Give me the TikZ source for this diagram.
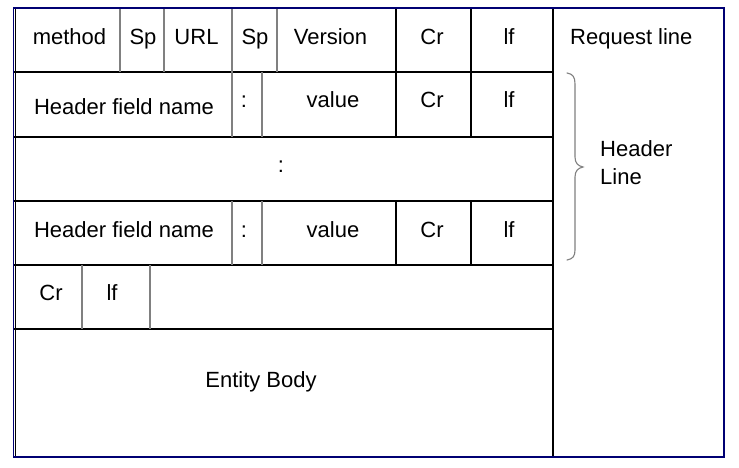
\documentclass[tikz,border=0pt]{standalone}
\usepackage{fontspec}
\setmainfont{Liberation Sans}
\begin{document}
\begin{tikzpicture}[x=1pt,y=-1pt,
  lbl/.style={inner sep=0pt,anchor=base,font=\fontsize{22}{26}\selectfont},
  lblw/.style={lbl,anchor=base west},
  hline/.style={black,line width=1.1pt},
  vdark/.style={black,line width=1.1pt},
  vgrey/.style={gray,line width=1.1pt},
  frame/.style={draw=blue!45!black,line width=1.4pt},
  bracestyle/.style={gray,line width=1.1pt,line cap=round}]
\useasboundingbox (0,0) rectangle (739,468);
\fill[white] (0,0) rectangle (739,468);

% corner points of the table
\coordinate (tl) at (14,8);
\coordinate (br) at (553,457);

% horizontal row separators
\foreach \yy in {72,137,201,265,329}
  \draw[hline] (14,\yy) -- (553,\yy);

% vertical separators, request line
\draw[vgrey] (120,8) -- (120,72);
\draw[vgrey] (164,8) -- (164,72);
\draw[vgrey] (232,8) -- (232,72);
\draw[vgrey] (277,8) -- (277,72);
\draw[vdark] (396,8) -- (396,72);
\draw[vdark] (471,8) -- (471,72);
% header lines
\foreach \ya/\yb in {72/137,201/265}{
  \draw[vgrey] (232,\ya) -- (232,\yb);
  \draw[vgrey] (262,\ya) -- (262,\yb);
  \draw[vdark] (396,\ya) -- (396,\yb);
  \draw[vdark] (471,\ya) -- (471,\yb);
}
% empty line
\draw[vgrey] (82,265) -- (82,329);
\draw[vgrey] (150,265) -- (150,329);

% right edge of the table and outer frame
\draw[vdark] (553,8) -- (553,457);
\draw[vdark] (15.5,8) -- (15.5,457);
\draw[frame] (13.5,8) rectangle (724,457);

% request line
\node[lbl] (m)   at (69.5,45) {method};
\node[lbl] (sp1) at (143,45) {Sp};
\node[lbl] (url) at (196.5,45) {URL};
\node[lbl] (sp2) at (255,45) {Sp};
\node[lbl] (ver) at (330.5,45) {Version};
\node[lbl] (cr1) at (432,45) {Cr};
\node[lbl] (lf1) at (509,45) {lf};

% first header line
\node[lbl] (h1n) at (124,115) {Header field name};
\node[lbl] (h1c) at (244,108) {:};
\node[lbl] (h1v) at (333,108) {value};
\node[lbl] (h1r) at (432,108) {Cr};
\node[lbl] (h1l) at (509,108) {lf};

% continuation
\node[lbl] (dots) at (281,172) {:};

% last header line
\node[lbl] (h2n) at (124,237) {Header field name};
\node[lbl] (h2c) at (244,237) {:};
\node[lbl] (h2v) at (333,237) {value};
\node[lbl] (h2r) at (432,237) {Cr};
\node[lbl] (h2l) at (509,237) {lf};

% blank line
\node[lbl] (cr3) at (51,300) {Cr};
\node[lbl] (lf3) at (112,300) {lf};

% body
\node[lbl] (body) at (261,387) {Entity Body};

% side labels
\node[lblw] (req) at (570,45) {Request line};
\node[lblw] (hdr) at (600,157) {Header};
\node[lblw] (lin) at (600,185) {Line};

% brace grouping the header lines
\draw[bracestyle] (567,73) .. controls (573,74) and (575,77) .. (575,84)
  -- (575,157) .. controls (575,163) and (578,166) .. (583,167)
  .. controls (578,168) and (575,171) .. (575,177)
  -- (575,250) .. controls (575,256) and (573,259) .. (567,260);
\end{tikzpicture}
\end{document}
